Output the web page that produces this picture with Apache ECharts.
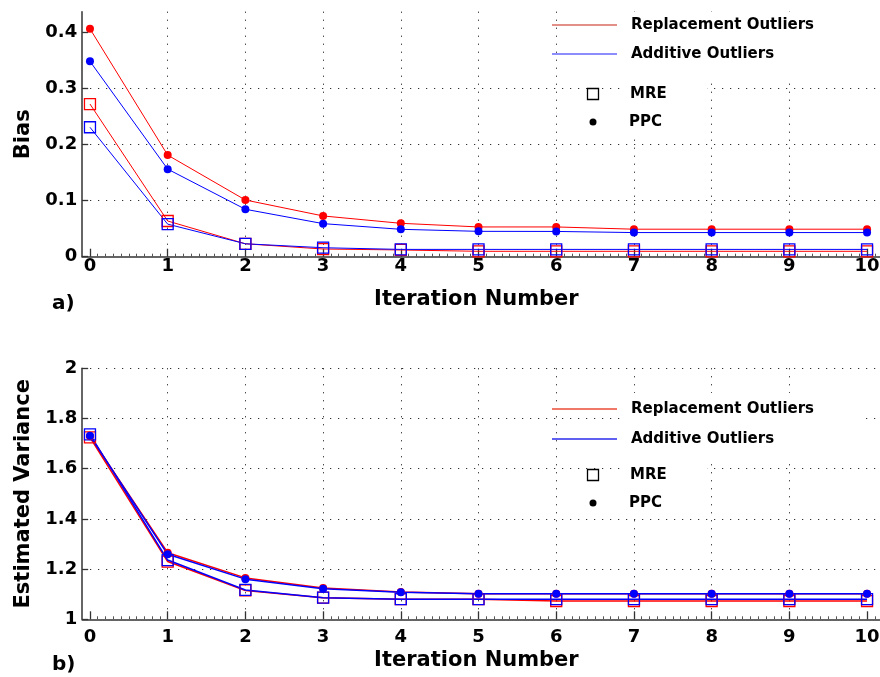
<!DOCTYPE html>
<html>
<head>
<meta charset="utf-8">
<script src="https://cdn.jsdelivr.net/npm/echarts@6/dist/echarts.min.js"></script>
<style>
  html, body { margin: 0; padding: 0; background: #fff; }
  #chart { width: 880px; height: 677px; }
</style>
</head>
<body>
<div id="chart"></div>
<script>
// Iteration index shared by both panels
const iterations = [0, 1, 2, 3, 4, 5, 6, 7, 8, 9, 10];

// Panel a) — bias per iteration
const biasReplacementMRE = [0.272, 0.0636, 0.023, 0.0137, 0.012, 0.0096, 0.0096, 0.0096, 0.0096, 0.0096, 0.0096];
const biasAdditiveMRE    = [0.2306, 0.058, 0.023, 0.016, 0.013, 0.013, 0.013, 0.013, 0.013, 0.013, 0.013];
const biasReplacementPPC = [0.406, 0.181, 0.101, 0.0726, 0.0595, 0.053, 0.053, 0.049, 0.049, 0.049, 0.049];
const biasAdditivePPC    = [0.348, 0.156, 0.0845, 0.0589, 0.0488, 0.0452, 0.045, 0.043, 0.043, 0.043, 0.043];

// Panel b) — estimated variance per iteration
const varReplacementMRE = [1.725, 1.230, 1.115, 1.086, 1.080, 1.080, 1.073, 1.073, 1.073, 1.073, 1.073];
const varAdditiveMRE    = [1.737, 1.236, 1.117, 1.086, 1.080, 1.080, 1.080, 1.080, 1.080, 1.080, 1.080];
const varReplacementPPC = [1.729, 1.265, 1.165, 1.125, 1.109, 1.102, 1.102, 1.102, 1.102, 1.102, 1.102];
const varAdditivePPC    = [1.731, 1.259, 1.160, 1.122, 1.108, 1.102, 1.102, 1.102, 1.102, 1.102, 1.102];

// Tick labels
const xTickValues = [0, 1, 2, 3, 4, 5, 6, 7, 8, 9, 10];
const biasTicks = [0, 0.1, 0.2, 0.3, 0.4];
const varianceTicks = [1, 1.2, 1.4, 1.6, 1.8, 2];

// Text
const legendLabels = ['Replacement Outliers', 'Additive Outliers', 'MRE', 'PPC'];
const panelLabels = ['a)', 'b)'];
const xAxisTitle = 'Iteration Number';
const yAxisTitles = ['Bias', 'Estimated Variance'];

const FONT = '"DejaVu Sans", "Liberation Sans", sans-serif';
const RED = '#ff0000';
const BLUE = '#0000ff';
const AXIS_COLOR = '#333';

function pairs(vals) {
  return iterations.map((x, i) => [x, vals[i]]);
}

function mreSeries(name, vals, color, idx, width) {
  return {
    type: 'line', name: name, xAxisIndex: idx, yAxisIndex: idx,
    data: pairs(vals),
    symbol: 'rect', symbolSize: 11,
    lineStyle: { color: color, width: width },
    itemStyle: { color: 'rgba(0,0,0,0)', borderColor: color, borderWidth: 1.3 },
    emphasis: { disabled: true },
    animation: false
  };
}

function ppcSeries(name, vals, color, idx, width) {
  return {
    type: 'line', name: name, xAxisIndex: idx, yAxisIndex: idx,
    data: pairs(vals),
    symbol: 'circle', symbolSize: 8,
    lineStyle: { color: color, width: width },
    itemStyle: { color: color, borderWidth: 0 },
    emphasis: { disabled: true },
    animation: false
  };
}

function xAxisFor(idx, labelMargin, nameGap) {
  return {
    type: 'value', gridIndex: idx, min: -0.1, max: 10.2, splitNumber: 10,
    axisLine: { show: true, onZero: false, lineStyle: { color: AXIS_COLOR, width: 1.5 } },
    axisTick: { show: true, inside: true, length: 8, customValues: xTickValues,
                lineStyle: { color: AXIS_COLOR, width: 1.3 } },
    minorTick: { show: true, splitNumber: 10, length: 3, lineStyle: { color: '#555', width: 1 } },
    axisLabel: { customValues: xTickValues, margin: labelMargin, color: '#000',
                 fontFamily: FONT, fontWeight: 'bold', fontSize: 18 },
    splitLine: { show: true, showMinLine: false, showMaxLine: false,
                 lineStyle: { color: '#000', type: [1, 7], width: 1 } },
    name: xAxisTitle, nameLocation: 'middle', nameGap: nameGap,
    nameTextStyle: { color: '#000', fontFamily: FONT, fontWeight: 'bold', fontSize: 21, padding: [0, 12, 0, 0] }
  };
}

function yAxisFor(idx, min, max, interval, ticks, title, showMaxLine) {
  return {
    type: 'value', gridIndex: idx, min: min, max: max, interval: interval,
    axisLine: { show: true, onZero: false, lineStyle: { color: AXIS_COLOR, width: 1.5 } },
    axisTick: { show: true, inside: true, length: 6, customValues: ticks,
                lineStyle: { color: AXIS_COLOR, width: 1.3 } },
    axisLabel: { customValues: ticks, margin: 5, color: '#000',
                 fontFamily: FONT, fontWeight: 'bold', fontSize: 18 },
    splitLine: { show: true, showMinLine: false, showMaxLine: showMaxLine,
                 lineStyle: { color: '#000', type: [1, 7], width: 1 } },
    name: title, nameLocation: 'middle', nameGap: 45,
    nameTextStyle: { color: '#000', fontFamily: FONT, fontWeight: 'bold', fontSize: 21 }
  };
}

// Legend block drawn as plain graphics: white text panels, line keys and marker keys
function legendBlock(lineY1, lineY2, markY1, markY2, boxTop, boxBottom, lineWidth, redKey, blueKey) {
  const textStyle = { fill: '#000', font: 'bold 15px ' + FONT, verticalAlign: 'middle', align: 'left' };
  return [
    { type: 'rect', z: 50, shape: { x: 620, y: boxTop, width: 243, height: boxBottom - boxTop }, style: { fill: '#fff' } },
    { type: 'rect', z: 50, shape: { x: 620, y: boxBottom, width: 87, height: markY2 + 16 - boxBottom }, style: { fill: '#fff' } },
    { type: 'line', z: 51, shape: { x1: 552, y1: lineY1, x2: 617, y2: lineY1 }, style: { stroke: redKey, lineWidth: lineWidth } },
    { type: 'line', z: 51, shape: { x1: 552, y1: lineY2, x2: 617, y2: lineY2 }, style: { stroke: blueKey, lineWidth: lineWidth } },
    { type: 'text', z: 51, x: 631, y: lineY1, style: Object.assign({ text: legendLabels[0] }, textStyle) },
    { type: 'text', z: 51, x: 631, y: lineY2, style: Object.assign({ text: legendLabels[1] }, textStyle) },
    { type: 'rect', z: 51, shape: { x: 587.5, y: markY1 - 5.5, width: 11, height: 11 }, style: { fill: 'none', stroke: '#000', lineWidth: 1.3 } },
    { type: 'text', z: 51, x: 630, y: markY1, style: Object.assign({ text: legendLabels[2] }, textStyle) },
    { type: 'circle', z: 51, shape: { cx: 593, cy: markY2, r: 3.5 }, style: { fill: '#000' } },
    { type: 'text', z: 51, x: 629, y: markY2, style: Object.assign({ text: legendLabels[3] }, textStyle) }
  ];
}

const chart = echarts.init(document.getElementById('chart'), null, { renderer: 'canvas' });

chart.setOption({
  animation: false,
  backgroundColor: '#fff',
  grid: [
    { left: 82.2, top: 11.7, width: 800.4, height: 245, containLabel: false, outerBoundsMode: 'none' },
    { left: 82.2, top: 368.3, width: 800.4, height: 251, containLabel: false, outerBoundsMode: 'none' }
  ],
  xAxis: [ xAxisFor(0, 1, 32), xAxisFor(1, 9, 31) ],
  yAxis: [
    yAxisFor(0, 0, 0.4365, 0.1, biasTicks, yAxisTitles[0], false),
    yAxisFor(1, 1, 2, 0.2, varianceTicks, yAxisTitles[1], true)
  ],
  series: [
    mreSeries('Replacement MRE', biasReplacementMRE, RED, 0, 1),
    mreSeries('Additive MRE', biasAdditiveMRE, BLUE, 0, 1),
    ppcSeries('Replacement PPC', biasReplacementPPC, RED, 0, 1),
    ppcSeries('Additive PPC', biasAdditivePPC, BLUE, 0, 1),
    mreSeries('Replacement MRE', varReplacementMRE, RED, 1, 1.5),
    mreSeries('Additive MRE', varAdditiveMRE, BLUE, 1, 1.5),
    ppcSeries('Replacement PPC', varReplacementPPC, RED, 1, 1.5),
    ppcSeries('Additive PPC', varAdditivePPC, BLUE, 1, 1.5)
  ],
  graphic: [].concat(
    legendBlock(25, 54, 94, 122, 12, 80, 1.2, '#c42010', '#1a1aff'),
    legendBlock(409, 439, 475, 503, 393, 460, 2, '#f07868', '#6060f0'),
    [
      { type: 'text', z: 51, x: 52, y: 304, style: { text: panelLabels[0], fill: '#000', font: 'bold 20px ' + FONT, verticalAlign: 'middle' } },
      { type: 'text', z: 51, x: 52, y: 665, style: { text: panelLabels[1], fill: '#000', font: 'bold 20px ' + FONT, verticalAlign: 'middle' } }
    ]
  )
});
</script>
</body>
</html>
